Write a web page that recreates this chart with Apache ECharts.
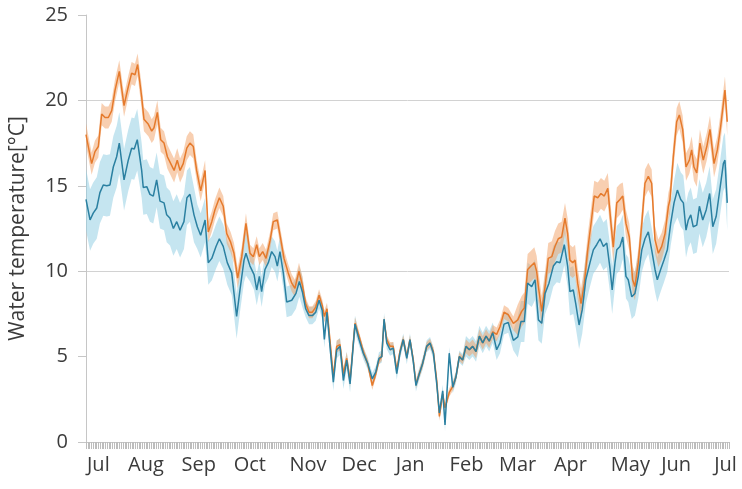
<!DOCTYPE html>
<html>
<head>
<meta charset="utf-8">
<script src="https://cdn.jsdelivr.net/npm/echarts@6/dist/echarts.min.js"></script>
<style>
html,body{margin:0;padding:0;background:#fff;}
#chart{width:742px;height:489px;}
</style>
</head>
<body>
<div id="chart"></div>
<script>
// Month tick labels and the day (0 = start of July) at which each label sits
const months = ['Jul','Aug','Sep','Oct','Nov','Dec','Jan','Feb','Mar','Apr','May','Jun','Jul'];
const monthLabelDays = [7,34,64,93,126,155,184,216,245,275,309,335,363];

// y axis
const yMin = 0, yMax = 25, yStep = 5;
const gridLevels = [10, 20];

// Orange series (upper): [day, mean temperature]
const orangeMean = [[0,18.0],[3.2,16.3],[5.1,17.0],[7.0,17.3],[8.9,19.2],[10.8,19.0],[12.7,19.0],[14.6,19.4],[16.5,20.6],[18.9,21.7],[21.6,19.7],[24.0,20.8],[25.9,21.6],[27.8,21.5],[29.3,22.1],[31.6,20.2],[32.9,18.9],[35.4,18.6],[37.3,18.2],[38.6,18.4],[40.5,19.3],[42.4,17.7],[44.3,17.5],[46.2,16.7],[48.1,16.3],[50.0,15.9],[51.8,16.5],[53.4,15.9],[55.2,16.3],[57.2,17.2],[59.0,17.5],[60.9,17.3],[62.8,15.9],[65.1,14.7],[67.6,15.9],[69.4,12.3],[71.4,12.9],[73.2,13.6],[75.7,14.3],[77.9,13.8],[79.9,12.2],[82.1,11.7],[84.0,11.05],[86.1,9.6],[88.4,10.85],[90.8,12.8],[93.1,11.05],[95.0,10.85],[96.9,11.55],[98.4,10.85],[100.3,11.15],[102.2,10.75],[104.5,11.8],[106.3,12.9],[108.6,13.0],[110.5,11.9],[112.4,10.75],[114.8,9.9],[116.8,9.3],[118.6,9.0],[120.9,10.0],[122.8,9.2],[124.7,8.1],[126.6,7.6],[128.5,7.6],[130.4,7.9],[132.3,8.6],[134.1,8.0],[135.3,7.35],[136.8,7.8],[138.5,5.95],[140.4,3.8],[142.3,5.6],[144.2,5.7],[146.1,4.0],[148.0,4.9],[149.9,3.6],[152.7,6.95],[155.0,6.2],[157.4,5.3],[159.9,4.6],[162.5,3.3],[164.5,4.0],[166.3,4.8],[167.9,5.0],[169.2,7.15],[170.7,6.0],[172.6,5.6],[174.4,5.6],[176.4,4.2],[178.2,5.3],[180.1,6.0],[182.1,5.0],[183.9,6.0],[185.8,4.8],[187.3,3.4],[189.2,4.0],[191.1,4.6],[193.4,5.6],[195.3,5.8],[197.2,5.3],[199.1,3.6],[200.6,1.5],[202.5,2.8],[203.8,2.0],[206.2,2.9],[208.2,3.25],[210.0,3.8],[211.9,5.0],[213.8,4.8],[215.7,5.6],[217.6,5.4],[219.5,5.6],[221.4,5.3],[223.3,6.2],[225.2,5.8],[227.1,6.2],[228.9,5.9],[230.9,6.45],[233.1,6.3],[235.0,6.75],[237.3,7.6],[239.7,7.45],[242.6,6.95],[245.1,7.15],[247.3,7.65],[248.8,7.85],[250.7,10.1],[252.6,10.3],[254.5,10.5],[255.8,10.0],[256.8,9.1],[258.7,7.65],[260.6,9.1],[262.4,10.75],[264.4,10.85],[266.2,11.45],[268.1,11.9],[270.0,12.0],[271.9,13.1],[273.4,12.2],[274.7,10.65],[276.3,10.5],[277.6,10.65],[279.1,9.3],[281.0,8.1],[282.9,9.3],[284.8,11.25],[286.7,12.8],[288.5,14.4],[290.5,14.3],[292.3,14.55],[294.2,14.4],[296.2,14.85],[298.0,12.8],[299.3,11.4],[301.3,14.0],[303.1,14.2],[304.7,14.4],[306.5,12.8],[308.4,12.0],[310.3,9.5],[311.6,9.1],[313.5,10.5],[315.5,12.8],[317.3,15.15],[319.2,15.55],[321.1,15.15],[323.0,11.85],[324.9,11.05],[326.8,11.45],[328.7,12.2],[330.6,13.8],[331.5,14.2],[333.4,16.7],[335.3,18.75],[336.8,19.15],[338.7,18.3],[340.6,16.1],[342.5,16.5],[343.8,17.1],[345.1,16.1],[346.7,15.75],[348.5,17.5],[350.4,16.5],[352.4,17.3],[354.2,18.3],[356.5,16.3],[358.4,17.1],[360.3,18.5],[362.7,20.6],[364.0,18.75]];

// Blue series (lower): [day, mean temperature]
const blueMean = [[0,14.2],[2.3,13.0],[4.1,13.4],[6.1,13.7],[7.9,14.6],[9.8,15.05],[11.8,15.0],[13.6,15.05],[15.5,16.1],[17.4,16.7],[18.9,17.5],[21.6,15.35],[24.0,16.5],[25.9,17.2],[27.4,17.15],[29.1,17.7],[31.6,15.9],[32.5,14.9],[34.5,14.95],[36.3,14.5],[38.2,14.4],[40.1,15.35],[42.0,14.1],[44.3,14.0],[45.8,13.3],[47.7,13.1],[49.6,12.5],[51.5,12.9],[53.4,12.4],[55.6,12.9],[57.3,14.3],[59.0,14.5],[61.3,13.3],[63.2,12.6],[65.1,12.1],[67.6,13.0],[69.4,10.5],[71.4,10.75],[73.8,11.45],[75.7,11.9],[77.9,11.45],[80.2,10.5],[82.7,9.9],[85.5,7.35],[87.4,8.9],[89.7,10.65],[90.8,11.05],[93.1,10.3],[95.4,9.8],[96.9,8.9],[98.4,9.7],[99.7,8.8],[101.6,10.1],[103.5,10.5],[105.4,11.15],[107.3,10.85],[108.6,10.3],[110.1,11.15],[112.0,9.9],[113.9,8.2],[116.8,8.3],[119.2,8.7],[121.1,9.4],[122.8,8.8],[124.7,7.8],[126.6,7.4],[128.5,7.4],[130.4,7.6],[132.3,8.3],[134.1,7.7],[135.3,6.0],[136.8,7.6],[138.5,5.6],[140.4,3.5],[142.3,5.4],[144.2,5.6],[146.1,3.6],[148.0,4.8],[149.9,3.4],[152.7,6.9],[155.0,6.0],[157.4,5.2],[159.9,4.6],[162.5,3.7],[164.5,4.1],[166.3,4.9],[167.9,5.0],[169.2,7.2],[170.7,5.8],[172.6,5.4],[174.4,5.5],[176.4,4.0],[178.2,5.2],[180.1,6.0],[182.1,4.9],[183.9,6.0],[185.8,4.7],[187.3,3.3],[189.2,4.0],[191.1,4.6],[193.4,5.6],[195.3,5.8],[197.2,5.2],[199.1,3.4],[200.6,1.7],[202.5,3.0],[203.8,1.0],[206.2,5.2],[208.2,3.2],[210.0,3.8],[211.9,5.0],[213.8,4.8],[215.7,5.6],[217.6,5.4],[219.5,5.6],[221.4,5.3],[223.3,6.2],[225.2,5.8],[227.1,6.2],[228.9,5.9],[230.9,6.4],[233.1,5.4],[235.0,5.8],[237.3,6.9],[239.7,7.0],[242.6,5.95],[245.1,6.15],[246.9,7.05],[248.8,7.05],[250.7,9.3],[253.0,9.1],[254.9,9.5],[256.8,7.15],[258.7,6.95],[260.6,8.7],[262.8,9.3],[265.3,10.3],[267.2,10.55],[269.1,10.5],[271.5,11.55],[273.4,10.3],[274.7,8.8],[276.6,8.9],[278.0,8.1],[279.9,6.85],[281.7,7.75],[283.7,9.5],[286.1,10.5],[288.0,11.25],[289.9,11.55],[291.8,11.9],[293.7,11.45],[295.6,11.65],[297.4,10.2],[298.7,8.9],[300.3,10.5],[301.3,11.25],[303.1,11.45],[304.7,12.0],[306.5,9.7],[307.8,9.5],[309.8,8.5],[311.6,8.7],[313.5,9.7],[315.5,11.25],[317.3,11.9],[319.2,12.3],[321.1,11.25],[323.0,10.1],[324.3,9.5],[326.2,10.1],[328.1,10.65],[330.0,11.25],[331.9,12.8],[333.8,14.0],[335.7,14.75],[337.6,14.2],[339.1,14.0],[340.6,12.4],[341.9,13.0],[343.3,13.3],[344.7,12.6],[346.7,12.7],[348.2,13.8],[350.1,13.0],[352.1,13.6],[354.0,14.55],[355.8,12.6],[357.7,13.2],[359.5,14.55],[361.8,16.3],[362.7,16.5],[364.0,14.0]];

// Half-width of the shaded bands, read per month (month start days)
const monthStarts  = [0,31,62,92,123,153,184,215,243,274,304,335];
const orangeSpread = [0.65,0.7,0.6,0.5,0.35,0.25,0.25,0.4,0.9,0.9,0.8,0.8];
const blueSpread   = [1.8,1.6,1.3,0.9,0.5,0.35,0.35,0.6,1.2,1.4,1.3,1.6];

function spreadAt(day, spread) {
  let k = 0;
  for (let i = 0; i < monthStarts.length; i++) if (day >= monthStarts[i]) k = i;
  return spread[k];
}

// Shaded band drawn as one polygon through the axis scales
function bandSeries(mean, spread, fill) {
  const data = mean.map(p => {
    const s = spreadAt(p[0], spread);
    return [p[0], p[1] - s, p[1] + s];
  });
  return {
    type: 'custom', data: data, silent: true,
    encode: { x: 0, y: [1, 2] },
    renderItem: function (params, api) {
      if (params.dataIndex !== 0) return null;
      const up = data.map(d => api.coord([d[0], d[2]]));
      const dn = data.map(d => api.coord([d[0], d[1]])).reverse();
      return { type: 'polygon', shape: { points: up.concat(dn) }, style: { fill: fill } };
    }
  };
}

const yTicks = [];
for (let v = yMin; v <= yMax; v += yStep) yTicks.push(v);

const textColor = '#3b3b3b';
const font = 'Open Sans';

const chart = echarts.init(document.getElementById('chart'), null, { renderer: 'canvas' });
chart.setOption({
  animation: false,
  backgroundColor: '#ffffff',
  grid: { left: 86, right: 13, top: 15, bottom: 47, containLabel: false },
  xAxis: {
    type: 'value', min: 0, max: 365, interval: 1,
    axisLine: { show: true, lineStyle: { color: '#c6c6c6', width: 1 } },
    axisTick: { show: true, length: 7, lineStyle: { color: '#bdbdbd', width: 1 } },
    splitLine: { show: false },
    axisLabel: {
      color: textColor, fontFamily: font, fontSize: 20, margin: 13,
      formatter: function (v) {
        const r = Math.round(v);
        if (Math.abs(v - r) > 1e-6) return '';
        const i = monthLabelDays.indexOf(r);
        return i >= 0 ? months[i] : '';
      }
    }
  },
  yAxis: {
    type: 'value', min: yMin, max: yMax, interval: yStep,
    name: 'Water temperature[°C]', nameLocation: 'middle', nameGap: 57, nameRotate: 90,
    nameTextStyle: { color: textColor, fontFamily: font, fontSize: 21 },
    axisLine: { show: true, lineStyle: { color: '#c6c6c6', width: 1 } },
    axisTick: { show: true, length: 8, lineStyle: { color: '#c6c6c6' } },
    axisLabel: { color: textColor, fontFamily: font, fontSize: 20, margin: 18 },
    splitLine: { show: true, lineStyle: {
      width: 1,
      color: yTicks.map(t => gridLevels.indexOf(t) >= 0 ? '#d2d2d2' : 'rgba(0,0,0,0)')
    } }
  },
  series: [
    bandSeries(blueMean, blueSpread, 'rgba(150,207,228,0.55)'),
    bandSeries(orangeMean, orangeSpread, 'rgba(242,160,100,0.5)'),
    { type: 'line', data: orangeMean, symbol: 'none', silent: true,
      lineStyle: { color: '#E57A2C', width: 1.5 } },
    { type: 'line', data: blueMean, symbol: 'none', silent: true,
      lineStyle: { color: '#2B80A1', width: 1.5 } }
  ]
});
</script>
</body>
</html>
